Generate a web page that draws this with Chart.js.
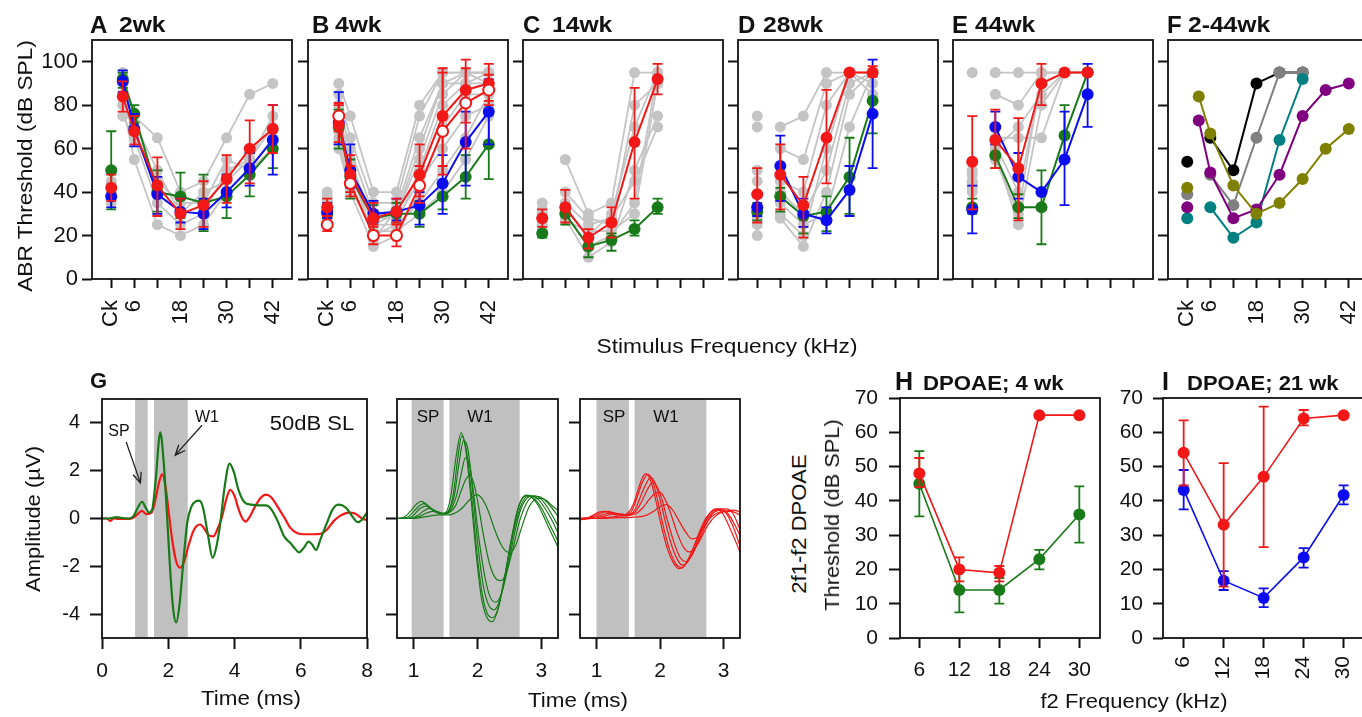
<!DOCTYPE html>
<html>
<head>
<meta charset="utf-8">
<script src="https://cdn.jsdelivr.net/npm/chart.js"></script>
<style>
  html, body { margin: 0; padding: 0; background: #fff; overflow: hidden; width: 1362px; height: 717px; }
  body { position: relative; font-family: 'Liberation Sans', Arial, sans-serif; color: #111; }
  canvas { position: absolute; }
  .t { position: absolute; white-space: nowrap; line-height: 1; }
</style>
</head>
<body>
<script>
// ---------- data ----------
// ABR frequencies in kHz, 0 = click (Ck)
const freqAll = [0, 3, 6, 12, 18, 24, 30, 36, 42];
const freqMid = [0, 6, 12, 18, 24, 30];
const freqTicks = [0, 6, 12, 18, 24, 30, 36, 42];
const freqTickLabels = ['Ck', '6', '', '18', '', '30', '', '42'];
const abrTicks = [0, 20, 40, 60, 80, 100];

// A 2wk
const aGrey = [
  [45, 95, 75, 65, 40, 45, 65, 85, 90],
  [40, 80, 55, 25, 20, 25, 40, 50, 65],
  [38, 75, 65, 35, 25, 30, 50, 55, 75],
  [44, 90, 72, 50, 30, 40, 45, 55, 70],
  [35, 85, 65, 45, 35, 35, 55, 50, 60]
];
const aRed = [42, 84, 68, 43, 30, 34, 46, 60, 69];
const aRedErr = [[36, 48], [77, 91], [62, 75], [29, 56], [23, 37], [24, 45], [35, 57], [44, 73], [58, 80]];
const aBlue = [38, 91, 69, 39, 31, 30, 40, 51, 64];
const aBlueErr = [[33, 43], [86, 96], [61, 76], [30, 47], [26, 37], [23, 37], [33, 48], [43, 58], [48, 80]];
const aGreen = [50, 92, 76, 40, 38, 35, 38, 48, 60];
const aGreenErr = [[32, 68], [88, 95], [72, 80], [31, 50], [28, 49], [22, 48], [28, 48], [38, 58], [51, 70]];

// B 4wk
const bGrey = [
  [40, 90, 75, 40, 40, 80, 95, 95, 95],
  [38, 85, 65, 35, 35, 75, 95, 95, 95],
  [35, 80, 60, 30, 30, 60, 90, 95, 95],
  [30, 70, 55, 25, 30, 55, 85, 95, 90],
  [28, 65, 45, 20, 25, 50, 80, 90, 90],
  [32, 60, 40, 15, 20, 40, 70, 85, 85],
  [35, 75, 50, 28, 28, 45, 60, 75, 80],
  [30, 62, 42, 22, 22, 30, 40, 55, 75],
  [33, 68, 48, 25, 25, 35, 50, 65, 85],
  [36, 78, 52, 18, 32, 65, 90, 90, 95]
];
const bRed = [33, 71, 48, 28, 31, 48, 75, 87, 90];
const bRedErr = [[29, 37], [63, 81], [40, 57], [24, 35], [26, 37], [38, 62], [52, 97], [72, 101], [82, 99]];
const bRedOpen = [25, 75, 44, 20, 20, 43, 68, 81, 87];
const bRedOpenErr = [[22, 29], [68, 80], [38, 52], [16, 25], [15, 25], [35, 52], [48, 95], [60, 97], [80, 94]];
const bBlue = [31, 72, 50, 30, 31, 34, 44, 63, 77];
const bBlueErr = [[28, 35], [62, 86], [42, 62], [26, 36], [27, 37], [25, 40], [30, 57], [43, 77], [62, 92]];
const bGreen = [30, 70, 47, 28, 30, 30, 38, 47, 62];
const bGreenErr = [[28, 33], [60, 78], [37, 55], [22, 34], [26, 35], [24, 36], [32, 44], [37, 57], [46, 77]];

// C 14wk
const cGrey = [
  [35, 55, 30, 35, 95, 95],
  [30, 40, 28, 25, 80, 90],
  [25, 28, 10, 17, 50, 75],
  [32, 32, 20, 30, 70, 95],
  [28, 30, 15, 20, 35, 95],
  [22, 27, 22, 22, 30, 90],
  [30, 35, 25, 28, 45, 70]
];
const cRed = [28, 33, 19, 26, 63, 92];
const cRedErr = [[24, 32], [26, 41], [14, 23], [19, 33], [37, 88], [85, 99]];
const cGreen = [21, 30, 15, 18, 23, 33];
const cGreenErr = [[19, 22], [25, 34], [10, 18], [13, 21], [20, 27], [30, 37]];

// D 28wk
const dGrey = [
  [75, 70, 75, 95, 95, 95],
  [70, 60, 55, 90, 95, 95],
  [20, 28, 15, 40, 85, 95],
  [25, 30, 20, 60, 95, 90],
  [45, 45, 40, 80, 95, 85],
  [50, 35, 25, 30, 70, 95],
  [28, 40, 30, 50, 90, 95]
];
const dRed = [39, 48, 34, 65, 95, 95];
const dRedErr = [[26, 51], [32, 62], [19, 47], [44, 87], null, [93, 98]];
const dBlue = [33, 52, 30, 27, 41, 76];
const dBlueErr = [[29, 38], [36, 66], [24, 37], [21, 33], [29, 52], [51, 101]];
const dGreen = [31, 38, 29, 31, 47, 82];
const dGreenErr = [[27, 35], [31, 42], [21, 33], [22, 38], [30, 65], [67, 95]];

// E 44wk
const eGrey = [
  [95, 95, 95, 95, 95, 95],
  [50, 85, 80, 95, 95, 95],
  [48, 65, 65, 65, 95, 95],
  [45, 60, 70, 85, 95, 95],
  [42, 62, 40, 90, 95, 95],
  [40, 58, 25, 80, 95, 95],
  [44, 55, 30, 95, 95, 95]
];
const eRed = [54, 64, 51, 90, 95, 95];
const eRedErr = [[32, 75], [51, 78], [27, 74], [80, 99], null, null];
const eBlue = [32, 70, 47, 40, 55, 85];
const eBlueErr = [[21, 43], [62, 77], [37, 58], null, [34, 77], [70, 99]];
const eGreen = [33, 57, 33, 33, 66, 95];
const eGreenErr = [[30, 37], [51, 64], [28, 39], [16, 50], [55, 80], null];

// F 2-44wk group means
const fOlive = [42, 84, 67, 43, 30, 35, 46, 60, 69];
const fPurple = [33, 73, 49, 28, 32, 48, 75, 87, 90];
const fTeal = [28, 33, 19, 26, 64, 92];
const fGrey = [39, 48, 34, 65, 95, 95];
const fBlack = [54, 65, 50, 90, 95, 95];

// G waveforms [time ms, amplitude uV]
const gGreen = [[0,0],[0.2,0],[0.3,0.02],[0.45,0.06],[0.6,0.02],[0.8,0],[0.95,0.1],[1.08,0.45],[1.21,0.7],[1.32,0.45],[1.42,0.25],[1.52,0.4],[1.62,1.6],[1.76,3.6],[1.86,2.4],[1.96,0.2],[2.06,-2.2],[2.15,-3.8],[2.24,-4.35],[2.34,-3.6],[2.45,-1.9],[2.57,-0.2],[2.7,0.5],[2.83,0.72],[2.94,0.75],[3.05,0.45],[3.2,-0.7],[3.34,-1.65],[3.45,-1.2],[3.57,-0.2],[3.7,1.3],[3.85,2.3],[3.98,1.95],[4.12,1.2],[4.3,0.68],[4.5,0.58],[4.75,0.55],[4.95,0.55],[5.1,0.4],[5.3,-0.1],[5.5,-0.75],[5.7,-1.05],[5.82,-1.25],[5.95,-1.42],[6.08,-1.25],[6.24,-0.97],[6.35,-1.1],[6.46,-1.32],[6.6,-0.85],[6.8,-0.15],[6.95,0.35],[7.12,0.58],[7.25,0.55],[7.4,0.4],[7.55,0.1],[7.72,-0.15],[7.85,-0.05],[8,0.25]];
const gRed = [[0,0],[0.15,0],[0.25,-0.1],[0.35,0],[0.5,-0.02],[0.7,-0.02],[0.9,0],[1.05,0.15],[1.2,0.32],[1.35,0.18],[1.5,0.25],[1.6,0.7],[1.72,1.5],[1.82,1.86],[1.92,1.3],[2.02,0.2],[2.12,-0.9],[2.24,-1.8],[2.36,-2.06],[2.48,-1.8],[2.62,-1.1],[2.75,-0.55],[2.85,-0.32],[2.97,-0.25],[3.1,-0.45],[3.22,-0.7],[3.36,-0.75],[3.5,-0.4],[3.62,0.05],[3.75,0.8],[3.87,1.2],[4.0,0.95],[4.12,0.4],[4.22,0.05],[4.33,-0.13],[4.45,0.05],[4.6,0.45],[4.78,0.85],[4.95,1.0],[5.1,0.9],[5.3,0.5],[5.5,0.05],[5.68,-0.38],[5.9,-0.62],[6.1,-0.66],[6.4,-0.66],[6.6,-0.64],[6.8,-0.45],[7.0,-0.1],[7.2,0.12],[7.45,0.25],[7.65,0.2],[7.85,0.0],[8,-0.07]];

// G middle: green traces at increasing level
const gLevelsGreen = [
  [[0.74,0],[0.85,0.05],[0.95,0.3],[1.05,0.62],[1.12,0.72],[1.2,0.6],[1.3,0.35],[1.42,0.2],[1.5,0.25],[1.58,0.9],[1.66,2.5],[1.745,3.58],[1.82,2.8],[1.9,0.8],[1.98,-1.5],[2.06,-3.3],[2.14,-4.1],[2.23,-4.32],[2.32,-3.8],[2.42,-2.5],[2.52,-1.0],[2.62,0.3],[2.7,0.85],[2.77,0.98],[2.88,0.8],[2.98,0.4],[3.1,-0.3],[3.26,-1.2]],
  [[0.74,0],[0.9,0.05],[1.0,0.3],[1.1,0.55],[1.16,0.62],[1.24,0.5],[1.34,0.3],[1.46,0.2],[1.54,0.3],[1.62,1.0],[1.69,2.5],[1.755,3.45],[1.83,2.8],[1.91,0.9],[1.99,-1.4],[2.07,-3.1],[2.15,-3.95],[2.24,-4.15],[2.33,-3.7],[2.43,-2.4],[2.53,-0.9],[2.63,0.35],[2.72,0.9],[2.8,0.97],[2.9,0.8],[3.0,0.45],[3.12,-0.2],[3.26,-0.95]],
  [[0.74,0],[0.9,0],[1.0,0.15],[1.1,0.42],[1.2,0.52],[1.28,0.4],[1.38,0.25],[1.48,0.2],[1.56,0.35],[1.64,1.0],[1.71,2.3],[1.78,3.25],[1.85,2.9],[1.93,1.0],[2.01,-1.2],[2.09,-2.8],[2.17,-3.6],[2.26,-3.82],[2.35,-3.4],[2.45,-2.2],[2.56,-0.6],[2.66,0.4],[2.76,0.9],[2.85,0.95],[2.95,0.8],[3.05,0.45],[3.15,0],[3.26,-0.6]],
  [[0.74,0],[0.95,0],[1.05,0.1],[1.15,0.3],[1.24,0.42],[1.32,0.35],[1.42,0.22],[1.5,0.2],[1.58,0.35],[1.67,0.95],[1.74,1.8],[1.81,2.54],[1.88,2.2],[1.95,0.8],[2.03,-1.0],[2.12,-2.5],[2.2,-3.3],[2.29,-3.5],[2.38,-3.1],[2.48,-2.0],[2.58,-0.6],[2.68,0.4],[2.8,0.9],[2.9,0.95],[3.0,0.8],[3.1,0.45],[3.26,-0.3]],
  [[0.74,0],[1.0,0.02],[1.1,0.1],[1.2,0.22],[1.3,0.3],[1.38,0.28],[1.48,0.2],[1.56,0.25],[1.66,0.55],[1.75,1.2],[1.82,1.65],[1.88,1.81],[1.94,1.5],[2.01,0.6],[2.1,-0.8],[2.2,-2.0],[2.3,-2.55],[2.37,-2.6],[2.46,-2.2],[2.56,-1.2],[2.66,-0.1],[2.76,0.6],[2.86,0.9],[2.96,0.92],[3.06,0.75],[3.16,0.45],[3.26,0.1]],
  [[0.74,0],[1.0,0],[1.2,0.08],[1.4,0.15],[1.55,0.15],[1.7,0.3],[1.8,0.55],[1.9,0.85],[1.99,1.0],[2.08,0.8],[2.17,0.3],[2.26,-0.4],[2.36,-1.05],[2.45,-1.38],[2.52,-1.42],[2.6,-1.1],[2.7,-0.3],[2.8,0.45],[2.9,0.8],[2.98,0.85],[3.08,0.75],[3.18,0.5],[3.26,0.35]]
];
// G right: red traces at increasing level
const gLevelsRed = [
  [[0.74,-0.05],[0.85,0],[0.95,0.15],[1.05,0.28],[1.13,0.3],[1.22,0.22],[1.32,0.15],[1.42,0.15],[1.5,0.25],[1.58,0.6],[1.66,1.25],[1.73,1.75],[1.78,1.88],[1.85,1.6],[1.93,0.8],[2.02,-0.3],[2.12,-1.3],[2.22,-1.9],[2.3,-2.1],[2.38,-2.0],[2.48,-1.5],[2.58,-0.9],[2.68,-0.3],[2.78,0.2],[2.88,0.4],[2.98,0.25],[3.1,-0.4],[3.26,-1.4]],
  [[0.74,0],[0.9,0.05],[1.0,0.15],[1.1,0.25],[1.18,0.3],[1.28,0.22],[1.38,0.15],[1.48,0.15],[1.56,0.35],[1.64,0.9],[1.72,1.5],[1.81,1.85],[1.88,1.6],[1.96,0.8],[2.05,-0.3],[2.15,-1.3],[2.25,-1.9],[2.34,-2.05],[2.43,-1.8],[2.53,-1.2],[2.63,-0.5],[2.73,0.05],[2.85,0.35],[2.96,0.4],[3.06,0.15],[3.16,-0.4],[3.26,-1.15]],
  [[0.74,0],[0.95,0.05],[1.05,0.12],[1.15,0.2],[1.25,0.25],[1.35,0.2],[1.45,0.15],[1.55,0.2],[1.63,0.5],[1.72,1.1],[1.8,1.55],[1.85,1.72],[1.92,1.5],[2.0,0.8],[2.09,-0.2],[2.18,-1.1],[2.27,-1.7],[2.35,-1.95],[2.44,-1.8],[2.54,-1.3],[2.64,-0.6],[2.75,0.0],[2.87,0.3],[3.0,0.35],[3.1,0.1],[3.26,-0.7]],
  [[0.74,-0.05],[1.0,0.02],[1.1,0.08],[1.2,0.15],[1.3,0.2],[1.4,0.18],[1.5,0.15],[1.6,0.25],[1.7,0.65],[1.8,1.2],[1.88,1.5],[1.95,1.35],[2.03,0.8],[2.12,-0.1],[2.22,-1.0],[2.31,-1.6],[2.4,-1.8],[2.49,-1.6],[2.58,-1.1],[2.68,-0.5],[2.8,0.1],[2.92,0.38],[3.04,0.4],[3.15,0.2],[3.26,-0.45]],
  [[0.74,0],[1.0,0],[1.2,0.05],[1.35,0.1],[1.5,0.12],[1.62,0.2],[1.73,0.45],[1.83,0.8],[1.92,1.05],[2.0,1.1],[2.08,0.8],[2.17,0.2],[2.27,-0.6],[2.37,-1.2],[2.46,-1.4],[2.55,-1.25],[2.65,-0.8],[2.75,-0.3],[2.87,0.1],[3.0,0.28],[3.12,0.3],[3.26,0.15]],
  [[0.74,0],[1.0,0],[1.3,0.03],[1.55,0.05],[1.7,0.08],[1.8,0.15],[1.9,0.3],[2.0,0.5],[2.1,0.58],[2.2,0.35],[2.3,-0.1],[2.4,-0.55],[2.5,-0.85],[2.58,-0.8],[2.68,-0.4],[2.8,0.05],[2.92,0.25],[3.05,0.32],[3.16,0.35],[3.26,0.28]]
];
// SP / W1 analysis windows (ms)
const gBandsLeft = [[1.0, 1.38], [1.57, 2.59]];
const gBandsMid = [[0.97, 1.47], [1.56, 2.66]];
const gBandsRight = [[1.0, 1.51], [1.6, 2.73]];

// H, I DPOAE thresholds
const dpFreq = [6, 12, 18, 24, 30];
const hRed = [48, 20, 19, 65, 65];
const hRedErr = [[44, 52.5], [16.5, 23.5], [16.5, 21], null, null];
const hGreen = [45, 14, 14, 23, 36];
const hGreenErr = [[35.5, 54.5], [7.5, 20], [10, 17.5], [20, 25.7], [27.8, 44.2]];
const iRed = [54, 33, 47, 64, 65];
const iRedErr = [[44.5, 63.5], [15, 51], [26.5, 67.5], [62, 66.5], null];
const iBlue = [43.2, 16.7, 11.7, 23.5, 41.7];
const iBlueErr = [[37.5, 49], [14, 19.5], [9, 14.5], [20.5, 26.2], [39, 44.5]];

// ---------- style ----------
const FONT = "'Liberation Sans', Arial, sans-serif";
const INK = '#111';
const RED = 'rgb(243,24,24)', BLUE = 'rgb(12,12,240)', GREEN = 'rgb(24,122,24)', GREY = 'rgb(196,196,196)';
const BAND = 'rgb(192,192,192)';
const PAD_T = 28; // room above each box so tick-label padding never squeezes the plot
Chart.defaults.font.family = FONT;

// ---------- helpers ----------
function pts(freqs, vals, errs) {
  const out = [];
  freqs.forEach((f, i) => {
    if (vals[i] == null) return;
    const p = {x: f, y: vals[i]};
    if (errs && errs[i]) { p.lo = errs[i][0]; p.hi = errs[i][1]; }
    out.push(p);
    if (f === 0) out.push({x: 1.5, y: null}); // Ck is not joined to the tone points
  });
  return out;
}

function series(data, color, opts) {
  return Object.assign({
    data: data, borderColor: color, backgroundColor: color,
    pointBackgroundColor: color, pointBorderColor: color,
    borderWidth: 2, pointRadius: 6, pointHoverRadius: 6, pointBorderWidth: 0,
    spanGaps: false, tension: 0
  }, opts || {});
}

function greyLines(freqs, rows) {
  return rows.map(r => series(pts(freqs, r), GREY, {pointRadius: 5.5, pointHoverRadius: 5.5, borderWidth: 1.8, order: 10}));
}

function trace(pairs, color, width) {
  return {
    data: pairs.map(p => ({x: p[0], y: p[1]})),
    borderColor: color, borderWidth: width, pointRadius: 0, pointHoverRadius: 0,
    cubicInterpolationMode: 'monotone', fill: false
  };
}

function axis(o) {
  return {
    type: 'linear', min: o.min, max: o.max,
    afterBuildTicks: s => { s.ticks = o.ticks.map(v => ({value: v})); },
    afterFit: s => { if (o.horizontal) s.height = o.size; else s.width = o.size; },
    ticks: {
      autoSkip: false, minRotation: o.rot || 0, maxRotation: o.rot || 0,
      padding: o.pad, color: INK, font: {family: FONT, size: o.fs || 21},
      callback: v => o.labels ? o.labels(v) : String(v)
    },
    grid: {drawOnChartArea: false, drawTicks: true, tickLength: o.tl || 10, tickWidth: 2, tickColor: INK},
    border: {display: false}
  };
}

const frame = {
  id: 'frame',
  afterDatasetsDraw(chart) {
    const {ctx, chartArea: a} = chart;
    ctx.save();
    ctx.strokeStyle = INK; ctx.lineWidth = 1.8;
    ctx.strokeRect(a.left, a.top, a.right - a.left, a.bottom - a.top);
    ctx.restore();
  }
};

const errorBars = {
  id: 'errorBars',
  beforeDatasetDraw(chart, args) {
    const ds = chart.data.datasets[args.index];
    const {ctx, scales: {x, y}} = chart;
    ctx.save();
    ctx.strokeStyle = ds.borderColor; ctx.lineWidth = 1.8;
    ds.data.forEach(p => {
      if (p.lo == null) return;
      const px = x.getPixelForValue(p.x), y0 = y.getPixelForValue(p.lo), y1 = y.getPixelForValue(p.hi);
      ctx.beginPath();
      ctx.moveTo(px, y0); ctx.lineTo(px, y1);
      ctx.moveTo(px - 5, y0); ctx.lineTo(px + 5, y0);
      ctx.moveTo(px - 5, y1); ctx.lineTo(px + 5, y1);
      ctx.stroke();
    });
    ctx.restore();
  }
};

function bandsPlugin(ranges) {
  return {
    id: 'bands',
    beforeDatasetsDraw(chart) {
      const {ctx, chartArea: a, scales: {x}} = chart;
      ctx.save();
      ctx.fillStyle = BAND;
      ranges.forEach(r => {
        const x0 = x.getPixelForValue(r[0]), x1 = x.getPixelForValue(r[1]);
        ctx.fillRect(x0, a.top, x1 - x0, a.bottom - a.top);
      });
      ctx.restore();
    }
  };
}

function arrowsPlugin(list) {
  return {
    id: 'arrows',
    afterDatasetsDraw(chart) {
      const {ctx, scales: {x, y}} = chart;
      ctx.save();
      ctx.strokeStyle = '#222'; ctx.lineWidth = 1.3;
      list.forEach(a => {
        const x0 = x.getPixelForValue(a[0]), y0 = y.getPixelForValue(a[1]);
        const x1 = x.getPixelForValue(a[2]), y1 = y.getPixelForValue(a[3]);
        const ang = Math.atan2(y1 - y0, x1 - x0);
        ctx.beginPath();
        ctx.moveTo(x0, y0); ctx.lineTo(x1, y1);
        ctx.moveTo(x1 - 11 * Math.cos(ang - 0.4), y1 - 11 * Math.sin(ang - 0.4));
        ctx.lineTo(x1, y1);
        ctx.lineTo(x1 - 11 * Math.cos(ang + 0.4), y1 - 11 * Math.sin(ang + 0.4));
        ctx.stroke();
      });
      ctx.restore();
    }
  };
}

function panel(cfg) {
  const c = document.createElement('canvas');
  const W = cfg.axL + cfg.box[2] + cfg.padR, H = PAD_T + cfg.box[3] + cfg.axB;
  c.width = W; c.height = H;
  c.style.left = (cfg.box[0] - cfg.axL) + 'px';
  c.style.top = (cfg.box[1] - PAD_T) + 'px';
  c.style.width = W + 'px'; c.style.height = H + 'px';
  document.body.appendChild(c);
  return new Chart(c, {
    type: 'line',
    data: {datasets: cfg.datasets},
    options: {
      responsive: false, animation: false, events: [],
      layout: {padding: {top: PAD_T, right: cfg.padR, left: 0, bottom: 0}},
      plugins: {legend: {display: false}, tooltip: {enabled: false}},
      scales: {x: cfg.x, y: cfg.y}
    },
    plugins: cfg.plugins
  });
}

function text(str, x, y, size, o) {
  o = o || {};
  const d = document.createElement('div');
  d.className = 't';
  d.textContent = str;
  d.style.fontSize = size + 'px';
  if (o.bold) d.style.fontWeight = 'bold';
  d.style.left = x + 'px'; d.style.top = y + 'px';
  const sx = o.sx ? ' scaleX(' + o.sx + ')' : '';
  if (o.left) {
    d.style.transformOrigin = 'left center';
    d.style.transform = 'translate(0,-50%)' + sx;
  } else {
    d.style.transform = 'translate(-50%,-50%)' + (o.rot ? ' rotate(' + o.rot + 'deg)' : '') + sx;
  }
  document.body.appendChild(d);
}

const freqLabel = v => freqTickLabels[freqTicks.indexOf(v)] || '';

function topPanel(left, datasets, showY, showX) {
  return panel({
    box: [left, 40, 200, 239], axL: 70, axB: 70, padR: 34,
    datasets: datasets,
    x: axis({horizontal: true, size: 70, min: -5, max: 47, ticks: freqTicks, rot: 90, pad: 12, tl: 9, fs: 22,
             labels: v => showX ? freqLabel(v) : ''}),
    y: axis({size: 70, min: 0, max: 110, ticks: abrTicks, pad: 4, tl: 10, fs: 22,
             labels: v => showY ? String(v) : ''}),
    plugins: [errorBars, frame]
  });
}

// ---------- top row: ABR thresholds ----------
topPanel(92, [
  ...greyLines(freqAll, aGrey),
  series(pts(freqAll, aGreen, aGreenErr), GREEN, {order: 3}),
  series(pts(freqAll, aBlue, aBlueErr), BLUE, {order: 2}),
  series(pts(freqAll, aRed, aRedErr), RED, {order: 1})
], true, true);

topPanel(308, [
  ...greyLines(freqAll, bGrey),
  series(pts(freqAll, bGreen, bGreenErr), GREEN, {order: 4}),
  series(pts(freqAll, bBlue, bBlueErr), BLUE, {order: 3}),
  series(pts(freqAll, bRed, bRedErr), RED, {order: 2}),
  series(pts(freqAll, bRedOpen, bRedOpenErr), RED, {order: 1, pointBackgroundColor: '#fff', pointBorderWidth: 2, pointRadius: 5.5})
], false, true);

topPanel(523, [
  ...greyLines(freqMid, cGrey),
  series(pts(freqMid, cGreen, cGreenErr), GREEN, {order: 2}),
  series(pts(freqMid, cRed, cRedErr), RED, {order: 1})
], false, false);

topPanel(738, [
  ...greyLines(freqMid, dGrey),
  series(pts(freqMid, dGreen, dGreenErr), GREEN, {order: 3}),
  series(pts(freqMid, dBlue, dBlueErr), BLUE, {order: 2}),
  series(pts(freqMid, dRed, dRedErr), RED, {order: 1})
], false, false);

topPanel(953, [
  ...greyLines(freqMid, eGrey),
  series(pts(freqMid, eGreen, eGreenErr), GREEN, {order: 3}),
  series(pts(freqMid, eBlue, eBlueErr), BLUE, {order: 2}),
  series(pts(freqMid, eRed, eRedErr), RED, {order: 1})
], false, false);

topPanel(1168, [
  series(pts(freqAll, fOlive), 'rgb(128,128,0)'),
  series(pts(freqAll, fPurple), 'rgb(128,0,128)'),
  series(pts(freqMid, fTeal), 'rgb(0,128,128)'),
  series(pts(freqMid, fGrey), 'rgb(128,128,128)'),
  series(pts(freqMid, fBlack), '#000')
], false, true);

// ---------- G: ABR waveforms ----------
const ampTicks = [-4, -2, 0, 2, 4];
panel({
  box: [102, 399, 265, 239], axL: 70, axB: 55, padR: 20,
  datasets: [trace(gGreen, GREEN, 2.2), trace(gRed, RED, 2.2)],
  x: axis({horizontal: true, size: 55, min: 0, max: 8, ticks: [0, 2, 4, 6, 8], pad: 10, tl: 11}),
  y: axis({size: 70, min: -5, max: 5, ticks: ampTicks, pad: 10, tl: 12, fs: 20}),
  plugins: [bandsPlugin(gBandsLeft), arrowsPlugin([[0.73, 3.2, 1.16, 1.49], [3.02, 3.9, 2.21, 2.65]]), frame]
});
panel({
  box: [397, 399, 161, 239], axL: 20, axB: 55, padR: 8,
  datasets: gLevelsGreen.map(t => trace(t, GREEN, 1.2)),
  x: axis({horizontal: true, size: 55, min: 0.74, max: 3.26, ticks: [1, 2, 3], pad: 10, tl: 11}),
  y: axis({size: 20, min: -5, max: 5, ticks: ampTicks, pad: 4, tl: 11, labels: () => ''}),
  plugins: [bandsPlugin(gBandsMid), frame]
});
panel({
  box: [580, 399, 160, 239], axL: 20, axB: 55, padR: 14,
  datasets: gLevelsRed.map(t => trace(t, RED, 1.2)),
  x: axis({horizontal: true, size: 55, min: 0.74, max: 3.26, ticks: [1, 2, 3], pad: 10, tl: 11}),
  y: axis({size: 20, min: -5, max: 5, ticks: ampTicks, pad: 4, tl: 11, labels: () => ''}),
  plugins: [bandsPlugin(gBandsRight), frame]
});

// ---------- H, I: DPOAE thresholds ----------
const dpTicks = [0, 10, 20, 30, 40, 50, 60, 70];
panel({
  box: [900, 398, 200, 240], axL: 70, axB: 55, padR: 14,
  datasets: [
    series(pts(dpFreq, hGreen, hGreenErr), GREEN, {order: 2, borderWidth: 1.6}),
    series(pts(dpFreq, hRed, hRedErr), RED, {order: 1, borderWidth: 1.6})
  ],
  x: axis({horizontal: true, size: 55, min: 3.1, max: 33.1, ticks: dpFreq, pad: 10, tl: 10}),
  y: axis({size: 70, min: 0, max: 70, ticks: dpTicks, pad: 11, tl: 11}),
  plugins: [errorBars, frame]
});
panel({
  box: [1163, 398, 200, 240], axL: 50, axB: 55, padR: 24,
  datasets: [
    series(pts(dpFreq, iBlue, iBlueErr), BLUE, {order: 2, borderWidth: 1.6}),
    series(pts(dpFreq, iRed, iRedErr), RED, {order: 1, borderWidth: 1.6})
  ],
  x: axis({horizontal: true, size: 55, min: 2.9, max: 32.9, ticks: dpFreq, rot: 90, pad: 8, tl: 10}),
  y: axis({size: 50, min: 0, max: 70, ticks: dpTicks, pad: 10, tl: 10}),
  plugins: [errorBars, frame]
});

// ---------- text ----------
const letters = [['A', 90, '2wk', 119], ['B', 312, '4wk', 335], ['C', 523, '14wk', 552],
                 ['D', 738, '28wk', 763], ['E', 952, '44wk', 975], ['F', 1167, '2-44wk', 1188]];
letters.forEach(l => {
  text(l[0], l[1], 25, 24, {bold: true, left: true});
  text(l[2], l[3], 25, 22, {bold: true, left: true, sx: 1.12});
});
text('ABR Threshold (dB SPL)', 24, 166, 21, {rot: -90, sx: 1.08});
text('Stimulus Frequency (kHz)', 727, 345, 21, {sx: 1.08});

text('G', 90, 381, 22, {bold: true, left: true});
text('50dB SL', 312, 423, 20, {sx: 1.1});
text('SP', 119, 431, 16);
text('W1', 207, 417, 16);
text('SP', 428, 416, 17);
text('W1', 480, 416, 17);
text('SP', 614, 416, 17);
text('W1', 666, 416, 17);
text('Amplitude (µV)', 33, 519, 20, {rot: -90, sx: 1.1});
text('Time (ms)', 251, 698, 20, {sx: 1.12});
text('Time (ms)', 578, 700, 20, {sx: 1.12});

text('H', 895, 381, 25, {bold: true, left: true});
text('DPOAE; 4 wk', 923, 383, 20, {bold: true, left: true, sx: 1.11});
text('I', 1162, 381, 25, {bold: true, left: true});
text('DPOAE; 21 wk', 1187, 383, 20, {bold: true, left: true, sx: 1.1});
text('2f1-f2 DPOAE', 799, 524, 20, {rot: -90, sx: 1.1});
text('Threshold (dB SPL)', 832, 515, 20, {rot: -90, sx: 1.09});
text('f2 Frequency (kHz)', 1134, 701, 20, {sx: 1.1});
</script>
</body>
</html>
